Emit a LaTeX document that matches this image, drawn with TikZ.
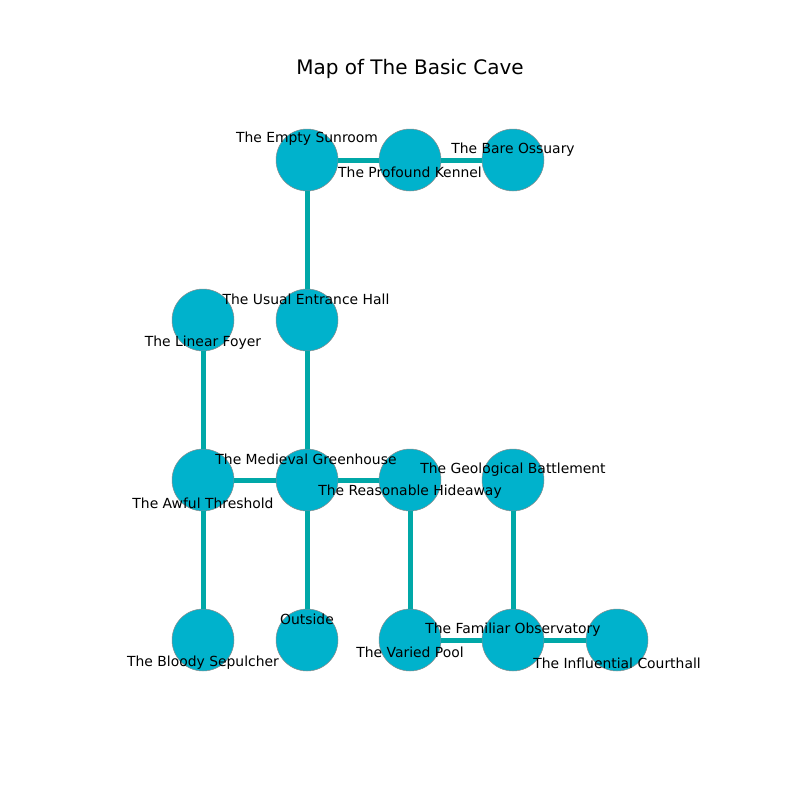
\documentclass[tikz,border=0pt]{standalone}
\usepackage{fontspec}
\setmainfont{DejaVu Sans}
\usepackage{tikz}
\usetikzlibrary{positioning,calc}
\definecolor{roomfill}{HTML}{00B2CC}
\definecolor{passage}{HTML}{00A8A8}
\tikzset{
  room/.style    = {draw=black!45, line width=0.5pt, circle, fill=roomfill,
                    inner sep=0pt, minimum size=62pt},
  lbl/.style     = {inner sep=0pt, font=\fontsize{13.9}{16}\selectfont},
  link/.style    = {draw=passage, line width=5pt},
}
\begin{document}
\begin{tikzpicture}[x=1pt,y=-1pt]
\useasboundingbox (0,0) rectangle (800,800);
\node[lbl,font=\fontsize{20}{24}\selectfont] (title) at (410,69) {Map of The Basic Cave};
% rooms
\node[room] (sun) at (307,160) {};
\node[room] (ken) at (410,160) {};
\node[room] (oss) at (513,160) {};
\node[room] (hall) at (307,320) {};
\node[room] (foy) at (203,320) {};
\node[room] (grn) at (307,480) {};
\node[room] (thr) at (203,480) {};
\node[room] (hid) at (410,480) {};
\node[room] (bat) at (513,480) {};
\node[room] (out) at (307,640) {};
\node[room] (sep) at (203,640) {};
\node[room] (pool) at (410,640) {};
\node[room] (obs) at (513,640) {};
\node[room] (crt) at (617,640) {};
% passages
\draw[link] (sun) -- (ken); \draw[link] (ken) -- (oss);
\draw[link] (sun) -- (hall); \draw[link] (hall) -- (grn);
\draw[link] (foy) -- (thr); \draw[link] (thr) -- (grn);
\draw[link] (grn) -- (hid); \draw[link] (grn) -- (out);
\draw[link] (thr) -- (sep); \draw[link] (hid) -- (pool);
\draw[link] (bat) -- (obs); \draw[link] (pool) -- (obs);
\draw[link] (obs) -- (crt);
% labels
\node[lbl] (sunL) at (307,139) {The Empty Sunroom};
\node[lbl] (kenL) at (410,172) {The Profound Kennel};
\node[lbl] (ossL) at (513,150) {The Bare Ossuary};
\node[lbl] (hallL) at (306,299) {The Usual Entrance Hall};
\node[lbl] (foyL) at (203,343) {The Linear Foyer};
\node[lbl] (grnL) at (306,459) {The Medieval Greenhouse};
\node[lbl] (thrL) at (203,503) {The Awful Threshold};
\node[lbl] (hidL) at (410,492) {The Reasonable Hideaway};
\node[lbl] (batL) at (513,470) {The Geological Battlement};
\node[lbl] (outL) at (307,619) {Outside};
\node[lbl] (sepL) at (203,663) {The Bloody Sepulcher};
\node[lbl] (poolL) at (410,652) {The Varied Pool};
\node[lbl] (obsL) at (513,630) {The Familiar Observatory};
\node[lbl] (crtL) at (617,663) {The Influential Courthall};
\end{tikzpicture}
\end{document}
